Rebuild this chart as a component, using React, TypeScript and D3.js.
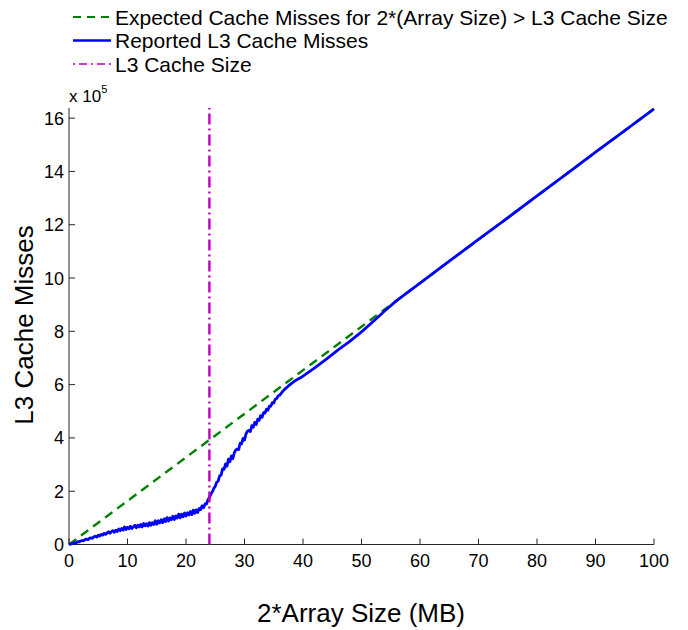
import React from "react";
import * as d3 from "d3";

// Array size sweep (MB) and measured L3 misses (units of 1e5)
const reportedX: number[] = [
  0, 0.25, 0.5, 0.75, 1, 1.25, 1.5, 1.75, 2, 2.25, 2.5, 2.75, 3, 3.25, 3.5, 3.75,
  4, 4.25, 4.5, 4.75, 5, 5.25, 5.5, 5.75, 6, 6.25, 6.5, 6.75, 7, 7.25, 7.5, 7.75,
  8, 8.25, 8.5, 8.75, 9, 9.25, 9.5, 9.75, 10, 10.25, 10.5, 10.75, 11, 11.25, 11.5, 11.75,
  12, 12.25, 12.5, 12.75, 13, 13.25, 13.5, 13.75, 14, 14.25, 14.5, 14.75, 15, 15.25, 15.5, 15.75,
  16, 16.25, 16.5, 16.75, 17, 17.25, 17.5, 17.75, 18, 18.25, 18.5, 18.75, 19, 19.25, 19.5, 19.75,
  20, 20.25, 20.5, 20.75, 21, 21.25, 21.5, 21.75, 22, 22.25, 22.5, 22.75, 23, 23.25, 23.5, 23.75,
  24, 24.25, 24.5, 24.75, 25, 25.25, 25.5, 25.75, 26, 26.25, 26.5, 26.75, 27, 27.25, 27.5, 27.75,
  28, 28.25, 28.5, 28.75, 29, 29.25, 29.5, 29.75, 30, 30.25, 30.5, 30.75, 31, 31.25, 31.5, 31.75,
  32, 32.25, 32.5, 32.75, 33, 33.25, 33.5, 33.75, 34, 34.25, 34.5, 34.75, 35, 35.25, 35.5, 35.75,
  36, 36.5, 37, 37.5, 38, 38.5, 39, 39.5, 40, 42, 44, 46, 48, 50, 52, 54, 56, 58, 60,
  65, 70, 75, 80, 85, 90, 95, 100,
];
const reportedY: number[] = [
  0, 0.01, 0.03, 0.04, 0.07, 0.06, 0.11, 0.1, 0.13, 0.15, 0.14, 0.19, 0.2, 0.18, 0.24, 0.25,
  0.23, 0.29, 0.31, 0.28, 0.35, 0.32, 0.38, 0.35, 0.42, 0.38, 0.43, 0.48, 0.42, 0.48, 0.52, 0.46,
  0.54, 0.49, 0.58, 0.52, 0.6, 0.54, 0.66, 0.56, 0.65, 0.59, 0.69, 0.6, 0.66, 0.72, 0.63, 0.72,
  0.66, 0.75, 0.66, 0.79, 0.7, 0.78, 0.69, 0.82, 0.72, 0.82, 0.75, 0.89, 0.76, 0.89, 0.81, 0.93,
  0.82, 0.96, 0.86, 1.01, 0.88, 1.0, 0.93, 1.06, 0.94, 1.07, 0.99, 1.14, 1.0, 1.14, 1.04, 1.18,
  1.07, 1.19, 1.11, 1.24, 1.12, 1.29, 1.17, 1.3, 1.2, 1.35, 1.31, 1.45, 1.38, 1.52, 1.52, 1.68,
  1.76, 1.88, 1.98, 2.1, 2.18, 2.34, 2.38, 2.58, 2.6, 2.84, 2.82, 3.02, 2.94, 3.2, 3.1, 3.32,
  3.22, 3.44, 3.55, 3.58, 3.56, 3.8, 3.78, 3.98, 3.92, 4.14, 4.25, 4.28, 4.24, 4.46, 4.4, 4.58,
  4.5, 4.7, 4.66, 4.83, 4.77, 4.95, 4.93, 5.08, 5.04, 5.19, 5.19, 5.32, 5.31, 5.45, 5.48, 5.58,
  5.6, 5.74, 5.85, 5.95, 6.04, 6.12, 6.19, 6.25, 6.32, 6.63, 6.96, 7.3, 7.62, 7.98, 8.37, 8.77, 9.15, 9.48, 9.81,
  10.63, 11.45, 12.26, 13.08, 13.9, 14.72, 15.53, 16.35,
];

// Expected misses once 2*(array size) exceeds L3
const expectedX: number[] = [0, 100];
const expectedY: number[] = [0, 16.35];

const cacheSizeMB = 24;

const xTicks: number[] = [0, 10, 20, 30, 40, 50, 60, 70, 80, 90, 100];
const yTicks: number[] = [0, 2, 4, 6, 8, 10, 12, 14, 16];

const legendLabels: string[] = [
  "Expected Cache Misses for 2*(Array Size) > L3 Cache Size",
  "Reported L3 Cache Misses",
  "L3 Cache Size",
];

const FONT = "'Liberation Sans', Arial, Helvetica, sans-serif";
const BLUE = "#0000ff";
const GREEN = "#008000";
const MAGENTA = "#bf00bf";
const AXIS = "#262626";

export default function App() {
  const width = 688;
  const height = 630;
  const left = 69;
  const right = 654;
  const top = 108;
  const bottom = 544.5;

  const x = d3.scaleLinear().domain([0, 100]).range([left, right]);
  const y = d3.scaleLinear().domain([0, 16.38]).range([bottom, top]);

  const line = d3
    .line<[number, number]>()
    .x((d) => x(d[0]))
    .y((d) => y(d[1]));

  const reported = reportedX.map((v, i) => [v, reportedY[i]] as [number, number]);
  const expected = expectedX.map((v, i) => [v, expectedY[i]] as [number, number]);

  const legendStyles = [
    { stroke: GREEN, dash: "8,6", w: 2.2 },
    { stroke: BLUE, dash: "", w: 2.4 },
    { stroke: MAGENTA, dash: "2,4,8,4", w: 1.6 },
  ];

  return (
    <svg
      width={width}
      height={height}
      style={{ position: "absolute", left: 0, top: 0, background: "#fff" }}
      fontFamily={FONT}
    >
      <rect width={width} height={height} fill="#fff" />

      {/* legend */}
      {legendLabels.map((label, i) => {
        const cy = 17 + i * 23.5;
        const s = legendStyles[i];
        return (
          <g key={label}>
            <line
              x1={73}
              x2={111}
              y1={cy}
              y2={cy}
              stroke={s.stroke}
              strokeWidth={s.w}
              strokeDasharray={s.dash || undefined}
            />
            <text x={115} y={cy + 7.5} fontSize={21} fill="#000">
              {label}
            </text>
          </g>
        );
      })}

      {/* exponent */}
      <text x={69} y={102} fontSize={17} fill="#000">
        x 10
        <tspan dy={-9} fontSize={11}>
          5
        </tspan>
      </text>

      {/* axes */}
      <line x1={left} x2={right} y1={bottom} y2={bottom} stroke={AXIS} strokeWidth={1} />
      <line x1={left} x2={left} y1={bottom} y2={top} stroke={AXIS} strokeWidth={1} />
      {xTicks.map((t) => (
        <g key={"x" + t}>
          <line x1={x(t)} x2={x(t)} y1={bottom} y2={bottom - 6} stroke={AXIS} strokeWidth={1} />
          <text x={x(t)} y={566.5} fontSize={18} textAnchor="middle" fill="#000">
            {t}
          </text>
        </g>
      ))}
      {yTicks.map((t) => (
        <g key={"y" + t}>
          <line x1={left} x2={left + 6} y1={y(t)} y2={y(t)} stroke={AXIS} strokeWidth={1} />
          <text x={64} y={y(t) + 6.5} fontSize={18} textAnchor="end" fill="#000">
            {t}
          </text>
        </g>
      ))}

      {/* series */}
      <path
        d={line(expected) || ""}
        fill="none"
        stroke={GREEN}
        strokeWidth={2.4}
        strokeDasharray="9,6"
      />
      <path
        d={line(reported) || ""}
        fill="none"
        stroke={BLUE}
        strokeWidth={2.8}
        strokeLinejoin="round"
      />
      <line
        x1={x(cacheSizeMB)}
        x2={x(cacheSizeMB)}
        y1={y(0)}
        y2={top}
        stroke={MAGENTA}
        strokeWidth={2.4}
        strokeDasharray="11,4,2,4"
      />

      {/* axis titles */}
      <text x={361} y={622} fontSize={26} textAnchor="middle" fill="#000">
        2*Array Size (MB)
      </text>
      <text
        transform={`translate(33,325) rotate(-90)`}
        fontSize={26}
        textAnchor="middle"
        fill="#000"
      >
        L3 Cache Misses
      </text>
    </svg>
  );
}
